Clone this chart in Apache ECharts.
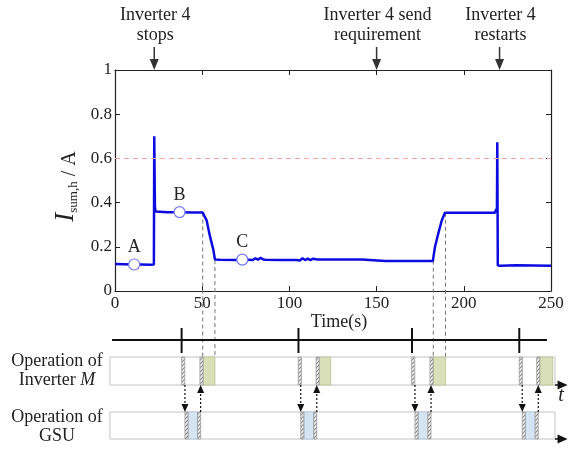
<!DOCTYPE html>
<html>
<head>
<meta charset="utf-8">
<script src="https://cdn.jsdelivr.net/npm/echarts@6/dist/echarts.min.js"></script>
<style>
  html, body { margin: 0; padding: 0; background: #fff; }
  #main { width: 568px; height: 450px; }
</style>
</head>
<body>
<div id="main"></div>
<script>
// waveform of I_sum,h (time in s, current in A)
const times = [
  0, 5, 10, 15, 20, 22.3, 22.5, 22.9, 23.3, 24,
  30, 37, 45, 50.3, 51.5, 52.5, 54.5, 56.4, 57.3, 60,
  70, 73, 79, 80.5, 82, 83.5, 85, 86.5, 95, 104,
  105, 106, 107.5, 109, 110.5, 112, 113.5, 116, 125, 135,
  141.5, 142.5, 155, 170, 182.3, 182.7, 183.5, 185.4, 187.3, 189.2,
  200, 210, 217.8, 218.6, 219.0, 219.2, 219.5, 221, 230, 240, 250
];
const current = [
  0.122, 0.121, 0.12, 0.12, 0.119, 0.12, 0.70, 0.38, 0.36, 0.358,
  0.356, 0.356, 0.355, 0.355, 0.335, 0.321, 0.246, 0.186, 0.142, 0.141,
  0.14, 0.142, 0.14, 0.148, 0.142, 0.15, 0.143, 0.141, 0.14, 0.14,
  0.146, 0.138, 0.148, 0.14, 0.146, 0.14, 0.146, 0.143, 0.143, 0.143,
  0.143, 0.136, 0.136, 0.136, 0.136, 0.16, 0.2, 0.261, 0.318, 0.354,
  0.354, 0.354, 0.354, 0.37, 0.355, 0.673, 0.115, 0.114, 0.116, 0.115, 0.114
];
const threshold = 0.6;

// marked operating points
const pointNames = ['A', 'B', 'C'];
const pointTimes = [11, 37, 73];
const pointValues = [0.12, 0.357, 0.142];

// events above the plot
const eventTimes = [22.5, 150, 220.5];
const eventLabels = ['Inverter 4\nstops', 'Inverter 4 send\nrequirement', 'Inverter 4\nrestarts'];

// dashed guides from the curve down to the schematic
const guideTimes = [50.3, 57.3, 182.5, 189.5];
const guideValues = [0.355, 0.14, 0.137, 0.354];

// schematic: one entry per cycle
const cycleTicks = [38.2, 105.2, 170.3, 231.8];
const invStop = [38.2, 105.1, 170.1, 231.8];
const gsuStart = [40.1, 106.5, 172.0, 233.5];
const gsuEnd = [49.1, 115.7, 181.2, 242.7];
const invRestart = [48.7, 115.3, 180.6, 241.8];
const invRunEnd = [57.3, 123.7, 189.6, 251.0];

// layout of the schematic (grid 2 y units = px below its top)
const HATCH = 1.8;
const LINE_Y = 15, TICK_TOP = 3, TICK_BOT = 28;
const INV_TOP = 32, INV_BOT = 60, GSU_TOP = 87, GSU_BOT = 114;
const ROW_START = -2.9, ROW_END = 252.3, ARROW_TIP = 259.5;
const LINE_START = -1.7, LINE_END = 247.7;

const SERIF = "'Liberation Serif', 'Times New Roman', serif";
const TXT = '#222';

function makeHatch() {
  const c = document.createElement('canvas');
  c.width = 4; c.height = 4;
  const g = c.getContext('2d');
  g.fillStyle = '#f0f0f0';
  g.fillRect(0, 0, 4, 4);
  g.strokeStyle = '#8c8c8c';
  g.lineWidth = 1.1;
  g.beginPath();
  g.moveTo(0, 4); g.lineTo(4, 0);
  g.moveTo(-1, 1); g.lineTo(1, -1);
  g.moveTo(3, 5); g.lineTo(5, 3);
  g.stroke();
  return c;
}
const hatchFill = { image: makeHatch(), repeat: 'repeat' };

const chart = echarts.init(document.getElementById('main'), null, { renderer: 'canvas' });

function block(api, t0, t1, y0, y1, style) {
  const p0 = api.coord([t0, y0]), p1 = api.coord([t1, y1]);
  return { type: 'rect', shape: { x: p0[0], y: p0[1], width: p1[0] - p0[0], height: p1[1] - p0[1] }, style: style };
}

function vArrow(api, t, yFrom, yTo) {
  const a = api.coord([t, yFrom]), b = api.coord([t, yTo]);
  const dir = b[1] > a[1] ? 1 : -1;
  const x = a[0];
  return [
    { type: 'line', shape: { x1: x, y1: a[1], x2: x, y2: b[1] - dir * 6 }, style: { stroke: '#111', lineWidth: 1.2, lineDash: [2, 2] } },
    { type: 'polygon', shape: { points: [[x - 3.5, b[1] - dir * 8], [x + 3.5, b[1] - dir * 8], [x, b[1]]] }, style: { fill: '#111' } }
  ];
}

function renderFrame(params, api) {
  const children = [];
  const a = api.coord([LINE_START, LINE_Y]), b = api.coord([LINE_END, LINE_Y]);
  children.push({ type: 'line', shape: { x1: a[0], y1: a[1], x2: b[0], y2: b[1] }, style: { stroke: '#111', lineWidth: 2 } });
  [[INV_TOP, INV_BOT], [GSU_TOP, GSU_BOT]].forEach(function (r) {
    children.push(block(api, ROW_START, ROW_END, r[0], r[1], { fill: '#fff', stroke: '#c4c4c4', lineWidth: 1 }));
    const s = api.coord([ROW_END, r[1]]), tip = api.coord([ARROW_TIP, r[1]]);
    children.push({ type: 'line', shape: { x1: s[0], y1: s[1], x2: tip[0] - 8, y2: s[1] }, style: { stroke: '#111', lineWidth: 1.5 } });
    children.push({ type: 'polygon', shape: { points: [[tip[0] - 10, s[1] - 4.5], [tip[0] - 10, s[1] + 4.5], [tip[0], s[1]]] }, style: { fill: '#111' } });
  });
  return { type: 'group', children: children };
}

function renderCycle(params, api) {
  const i = params.dataIndex;
  const hatchStyle = { fill: hatchFill, stroke: '#9a9a9a', lineWidth: 0.8 };
  const children = [];
  const ta = api.coord([cycleTicks[i], TICK_TOP]), tb = api.coord([cycleTicks[i], TICK_BOT]);
  children.push({ type: 'line', shape: { x1: ta[0], y1: ta[1], x2: tb[0], y2: tb[1] }, style: { stroke: '#111', lineWidth: 2 } });
  // inverter row
  children.push(block(api, invStop[i], invStop[i] + HATCH, INV_TOP, INV_BOT, hatchStyle));
  children.push(block(api, invRestart[i] + HATCH, invRunEnd[i], INV_TOP, INV_BOT, { fill: '#d9e0b9', stroke: '#b9c18f', lineWidth: 0.8 }));
  children.push(block(api, invRestart[i], invRestart[i] + HATCH, INV_TOP, INV_BOT, hatchStyle));
  // GSU row
  children.push(block(api, gsuStart[i] + HATCH, gsuEnd[i] - HATCH, GSU_TOP, GSU_BOT, { fill: '#d4e4f2', stroke: '#aec3d8', lineWidth: 0.8 }));
  children.push(block(api, gsuStart[i], gsuStart[i] + HATCH, GSU_TOP, GSU_BOT, hatchStyle));
  children.push(block(api, gsuEnd[i] - HATCH, gsuEnd[i], GSU_TOP, GSU_BOT, hatchStyle));
  // signalling arrows
  vArrow(api, gsuStart[i], INV_BOT, GSU_TOP).forEach(function (e) { children.push(e); });
  vArrow(api, gsuEnd[i], GSU_TOP, INV_BOT).forEach(function (e) { children.push(e); });
  return { type: 'group', children: children };
}

function renderGuide(params, api) {
  const t = api.value(0), v = api.value(1);
  const p = api.coord([t, v]), base = api.coord([t, 0]);
  return { type: 'line', shape: { x1: p[0], y1: p[1], x2: p[0], y2: base[1] + 94 }, style: { stroke: '#777', lineWidth: 1, lineDash: [4, 3] } };
}

function renderEvent(params, api) {
  const i = params.dataIndex;
  const p = api.coord([eventTimes[i], 1]);
  const x = p[0], top = p[1];
  return {
    type: 'group',
    children: [
      { type: 'line', shape: { x1: x, y1: top - 23, x2: x, y2: top - 9 }, style: { stroke: '#333', lineWidth: 1.5 } },
      { type: 'polygon', shape: { points: [[x - 4.5, top - 11], [x + 4.5, top - 11], [x, top]] }, style: { fill: '#333' } },
      { type: 'text', style: { x: x + 1, y: top - 25, text: eventLabels[i], align: 'center', verticalAlign: 'bottom', font: '18px ' + SERIF, lineHeight: 20, fill: TXT } }
    ]
  };
}

const axisLine = { show: true, onZero: false, lineStyle: { color: '#222', width: 1.2 } };
const tickIn = { show: true, inside: true, length: 5, lineStyle: { color: '#222' } };
const labelStyle = { fontFamily: SERIF, fontSize: 17, color: TXT };

const option = {
  animation: false,
  backgroundColor: '#fff',
  grid: [
    { left: 115, top: 70, width: 436, height: 221 },
    { left: 115, top: 325, width: 436, height: 120 }
  ],
  xAxis: [
    { type: 'value', gridIndex: 0, min: 0, max: 250, interval: 50, position: 'bottom',
      axisLine: axisLine, axisTick: tickIn, splitLine: { show: false },
      axisLabel: Object.assign({ margin: 4 }, labelStyle),
      name: 'Time(s)', nameLocation: 'middle', nameGap: 22,
      nameTextStyle: { fontFamily: SERIF, fontSize: 18, color: TXT, padding: [0, 0, 0, 12] } },
    { type: 'value', gridIndex: 0, min: 0, max: 250, interval: 50, position: 'top',
      axisLine: axisLine, axisTick: tickIn, axisLabel: { show: false }, splitLine: { show: false } },
    { type: 'value', gridIndex: 1, min: 0, max: 250, show: false }
  ],
  yAxis: [
    { type: 'value', gridIndex: 0, min: 0, max: 1, interval: 0.2, position: 'left',
      axisLine: axisLine, axisTick: tickIn, splitLine: { show: false },
      axisLabel: Object.assign({ margin: 3, formatter: function (v) { return v === 0 || v === 1 ? String(v) : v.toFixed(1); } }, labelStyle),
      name: '{i|I}{s|sum,h}{a| / A}', nameLocation: 'middle', nameGap: 33,
      nameTextStyle: {
        fontFamily: SERIF, color: TXT, padding: [0, 12, 0, 0],
        rich: {
          i: { fontFamily: SERIF, fontSize: 27, fontStyle: 'italic', color: TXT, lineHeight: 28, verticalAlign: 'bottom' },
          s: { fontFamily: SERIF, fontSize: 13, color: TXT, lineHeight: 28, verticalAlign: 'bottom', padding: [6, 0, 0, 0] },
          a: { fontFamily: SERIF, fontSize: 20, color: TXT, lineHeight: 28, verticalAlign: 'bottom' }
        }
      } },
    { type: 'value', gridIndex: 0, min: 0, max: 1, interval: 0.2, position: 'right',
      axisLine: axisLine, axisTick: tickIn, axisLabel: { show: false }, splitLine: { show: false } },
    { type: 'value', gridIndex: 1, min: 0, max: 120, inverse: true, show: false }
  ],
  graphic: [
    { type: 'text', x: 57, y: 371, style: {
        text: '{n|Operation of}\n{n|Inverter }{m|M}', align: 'center', verticalAlign: 'middle',
        rich: { n: { font: '18px ' + SERIF, fill: TXT, lineHeight: 19 }, m: { font: 'italic 18px ' + SERIF, fill: TXT, lineHeight: 19 } } } },
    { type: 'text', x: 57, y: 427, style: {
        text: 'Operation of\nGSU', align: 'center', verticalAlign: 'middle', font: '18px ' + SERIF, lineHeight: 19, fill: TXT } },
    { type: 'text', x: 561, y: 396, style: {
        text: 't', align: 'center', verticalAlign: 'middle', font: 'italic 20px ' + SERIF, fill: TXT } }
  ],
  series: [
    { type: 'custom', xAxisIndex: 0, yAxisIndex: 0, clip: false, z: 1, silent: true,
      renderItem: renderGuide,
      data: guideTimes.map(function (t, i) { return [t, guideValues[i]]; }) },
    { type: 'line', xAxisIndex: 0, yAxisIndex: 0, z: 3, showSymbol: false, silent: true,
      lineStyle: { color: '#0c0ce0', width: 2.5 },
      data: times.map(function (t, i) { return [t, current[i]]; }),
      markLine: { silent: true, symbol: 'none', label: { show: false },
        lineStyle: { color: '#f4a3a3', type: [5, 4], width: 1.2 },
        data: [{ yAxis: threshold }] } },
    { type: 'scatter', xAxisIndex: 0, yAxisIndex: 0, z: 4, silent: true,
      symbol: 'circle', symbolSize: 11,
      itemStyle: { color: '#fff', borderColor: '#7878f8', borderWidth: 1.2, opacity: 1 },
      label: { show: true, position: 'top', distance: 2, formatter: function (p) { return pointNames[p.dataIndex]; },
        fontFamily: SERIF, fontSize: 18, color: TXT },
      data: pointTimes.map(function (t, i) { return [t, pointValues[i]]; }) },
    { type: 'custom', xAxisIndex: 0, yAxisIndex: 0, clip: false, z: 5, silent: true,
      renderItem: renderEvent,
      data: eventTimes.map(function (t) { return [t, 1]; }) },
    { type: 'custom', xAxisIndex: 2, yAxisIndex: 2, clip: false, z: 1, silent: true,
      renderItem: renderFrame, data: [[0, 0]] },
    { type: 'custom', xAxisIndex: 2, yAxisIndex: 2, clip: false, z: 2, silent: true,
      renderItem: renderCycle,
      data: cycleTicks.map(function (t) { return [t, LINE_Y]; }) }
  ]
};

chart.setOption(option);
</script>
</body>
</html>
